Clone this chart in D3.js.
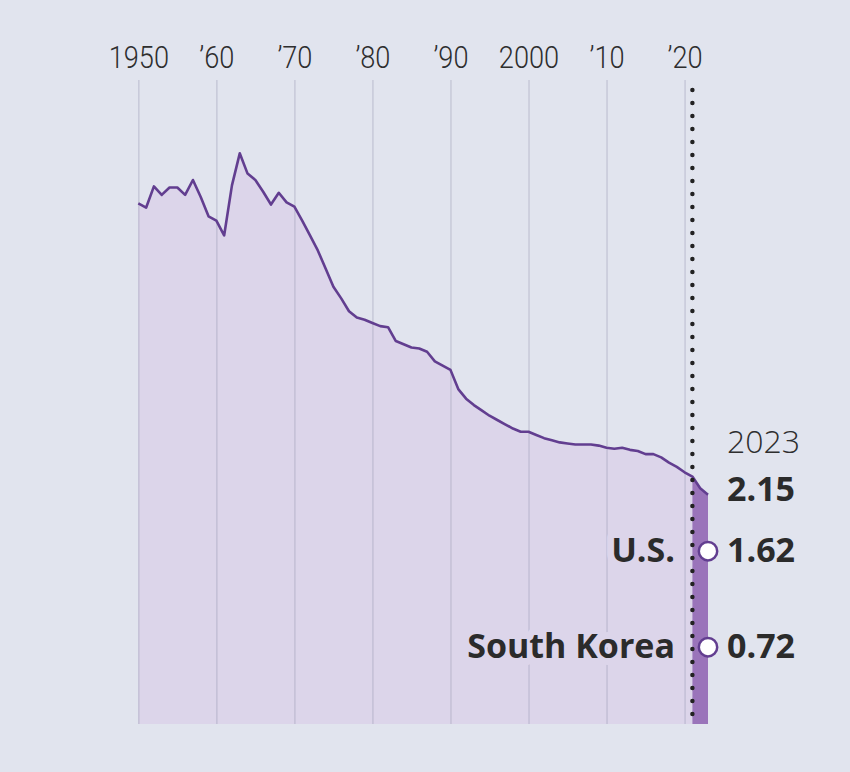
<!DOCTYPE html>
<html>
<head>
<meta charset="utf-8">
<script src="https://cdn.jsdelivr.net/npm/d3@7"></script>
<style>
  html, body { margin: 0; padding: 0; background: #e1e4ee; }
  svg { display: block; }
</style>
</head>
<body>
<svg id="chart" width="850" height="772"></svg>
<script>
// ---- data ----
const years = d3.range(1950, 2024);
const fertility = [
  4.88, 4.84, 5.04, 4.96, 5.03, 5.03, 4.96, 5.10, 4.94, 4.76,
  4.72, 4.58, 5.05, 5.35, 5.16, 5.10, 4.99, 4.87, 4.98, 4.89,
  4.85, 4.72, 4.58, 4.44, 4.27, 4.10, 3.99, 3.87, 3.81, 3.79,
  3.76, 3.73, 3.72, 3.59, 3.56, 3.53, 3.52, 3.49, 3.40, 3.36,
  3.32, 3.14, 3.05, 2.99, 2.94, 2.89, 2.85, 2.81, 2.77, 2.74,
  2.74, 2.71, 2.68, 2.66, 2.64, 2.63, 2.62, 2.62, 2.62, 2.61,
  2.59, 2.58, 2.59, 2.57, 2.56, 2.53, 2.53, 2.50, 2.45, 2.41,
  2.36, 2.32, 2.21, 2.15
];
const tickYears = [1950, 1960, 1970, 1980, 1990, 2000, 2010, 2020];
const tickLabels = ["1950", "\u201960", "\u201970", "\u201980", "\u201990", "2000", "\u201910", "\u201920"];
const highlightStart = 2021;
const lastYear = 2023;
const worldLabel = "2.15";
const countries = ["U.S.", "South Korea"];
const countryValues = [1.62, 0.72];

// ---- layout ----
const svg = d3.select("#chart");
const x = d3.scaleLinear().domain([1950, 2023]).range([138.3, 708]);
const y = d3.scaleLinear().domain([0, 6]).range([724, 84]);
const series = years.map((yr, i) => ({ year: yr, v: fertility[i] }));

const fontLight = "Roboto, 'Open Sans', sans-serif";
const fontMain = "'Open Sans', 'Noto Sans', sans-serif";
const areaColor = "#dcd5ea";
const lineColor = "#623e90";

// background area
const area = d3.area().x(d => x(d.year)).y0(y(0)).y1(d => y(d.v));
svg.append("path")
  .datum(series.filter(d => d.year <= highlightStart))
  .attr("d", area)
  .attr("fill", areaColor);
svg.append("path")
  .datum(series.filter(d => d.year >= highlightStart))
  .attr("d", area)
  .attr("fill", "#9a74ba");

// grid lines via axis
const xAxis = d3.axisTop(x)
  .tickValues(tickYears)
  .tickFormat((d, i) => tickLabels[i])
  .tickSize(y(0) - 80)
  .tickPadding(12);
const gAxis = svg.append("g")
  .attr("transform", `translate(0,${y(0)})`)
  .call(xAxis);
gAxis.select(".domain").remove();
gAxis.selectAll(".tick line")
  .attr("stroke", "#9c9cb4")
  .attr("stroke-opacity", 0.35)
  .attr("stroke-width", 1.6);
gAxis.selectAll(".tick text")
  .attr("font-family", fontLight)
  .attr("font-weight", 300)
  .attr("font-size", 32)
  .attr("fill", "#2e2e2e")
  .attr("y", -(y(0) - 68))
  .attr("dy", 0)
  .attr("transform", "scale(0.85,1)");

// line
const line = d3.line().x(d => x(d.year)).y(d => y(d.v));
svg.append("path")
  .datum(series)
  .attr("d", line)
  .attr("fill", "none")
  .attr("stroke", lineColor)
  .attr("stroke-width", 2.6)
  .attr("stroke-linejoin", "round");

// dotted vertical line
svg.append("line")
  .attr("x1", x(highlightStart)).attr("x2", x(highlightStart))
  .attr("y1", 90).attr("y2", 716)
  .attr("stroke", "#222")
  .attr("stroke-width", 4.5)
  .attr("stroke-linecap", "round")
  .attr("stroke-dasharray", "0,13");

// right-side labels
svg.append("text")
  .attr("x", 727).attr("y", 453)
  .attr("font-family", fontMain)
  .attr("font-weight", 300)
  .attr("font-size", 32)
  .attr("fill", "#2e2e2e")
  .text(String(lastYear));
svg.append("text")
  .attr("x", 727).attr("y", 501)
  .attr("font-family", fontMain)
  .attr("font-weight", 700)
  .attr("font-size", 34)
  .attr("fill", "#2b2b2b")
  .text(worldLabel);

const gC = svg.append("g").selectAll("g")
  .data(countries.map((c, i) => ({ name: c, v: countryValues[i] })))
  .join("g");
gC.append("text")
  .attr("x", 675)
  .attr("y", d => y(d.v) + 11)
  .attr("text-anchor", "end")
  .attr("font-family", fontMain)
  .attr("font-weight", 700)
  .attr("font-size", 34)
  .attr("fill", "#2b2b2b")
  .attr("stroke", areaColor)
  .attr("stroke-width", 14)
  .attr("stroke-linejoin", "round")
  .attr("paint-order", "stroke")
  .text(d => d.name);
gC.append("circle")
  .attr("cx", x(lastYear))
  .attr("cy", d => y(d.v))
  .attr("r", 9.2)
  .attr("fill", "#fff")
  .attr("stroke", lineColor)
  .attr("stroke-width", 2.5);
gC.append("text")
  .attr("x", 727)
  .attr("y", d => y(d.v) + 11)
  .attr("font-family", fontMain)
  .attr("font-weight", 700)
  .attr("font-size", 34)
  .attr("fill", "#2b2b2b")
  .text(d => d.v.toFixed(2));
</script>
</body>
</html>
